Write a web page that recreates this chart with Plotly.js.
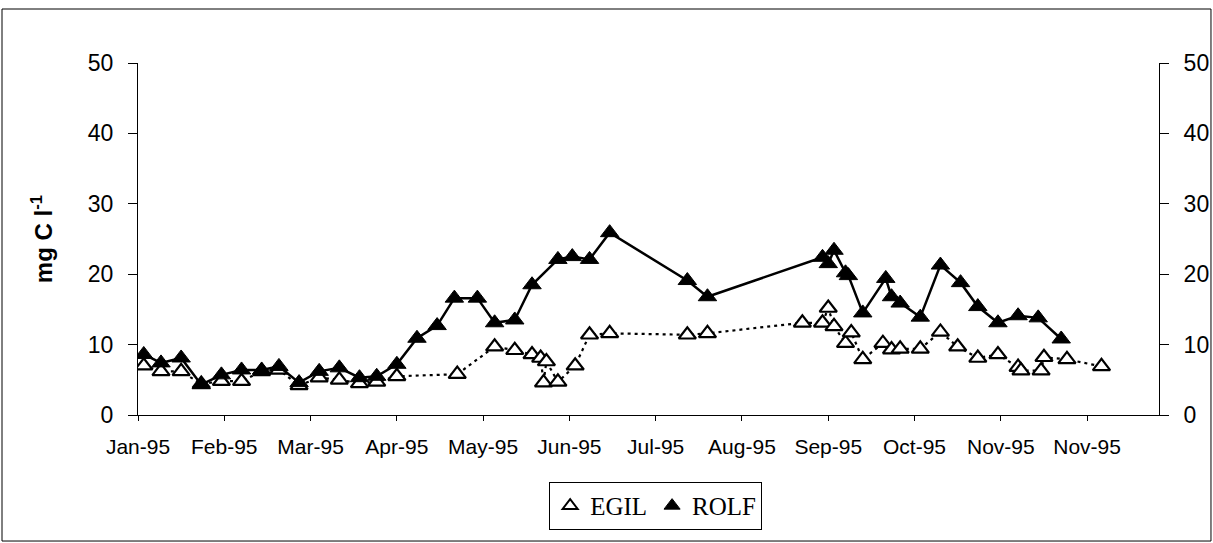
<!DOCTYPE html>
<html>
<head>
<meta charset="utf-8">
<script src="https://cdn.plot.ly/plotly-3.0.1.min.js"></script>
<style>html,body{margin:0;padding:0;background:#fff;}#chart{width:1213px;height:543px;}</style>
</head>
<body>
<div id="chart"></div>
<script>
// x values: days since start of axis (tick every 30 days)
const tickDays = [0, 30, 60, 90, 120, 150, 180, 210, 240, 270, 300, 330];
const tickLabels = ['Jan-95','Feb-95','Mar-95','Apr-95','May-95','Jun-95','Jul-95','Aug-95','Sep-95','Oct-95','Nov-95','Nov-95'];

const egilDays = [2, 8, 15, 22, 29, 36, 43, 49, 56, 63, 70, 77, 83, 90, 111, 124, 131, 137, 140, 141, 142, 146, 152, 157, 164, 191, 198, 231, 238, 240, 242, 246, 248, 252, 259, 262, 265, 272, 279, 285, 292, 299, 306, 307, 314, 315, 323, 335];
const egilValues = [7.0, 6.2, 6.2, 4.4, 4.8, 4.8, 6.2, 6.4, 4.2, 5.3, 5.0, 4.5, 4.7, 5.5, 5.8, 9.7, 9.2, 8.6, 8.1, 4.6, 7.6, 4.7, 7.0, 11.4, 11.6, 11.4, 11.6, 13.1, 13.1, 15.2, 12.6, 10.2, 11.7, 7.9, 10.2, 9.3, 9.4, 9.4, 11.8, 9.7, 8.1, 8.6, 6.8, 6.3, 6.3, 8.2, 7.9, 6.9];

const rolfDays = [2, 8, 15, 22, 29, 36, 43, 49, 56, 63, 70, 77, 83, 90, 97, 104, 110, 118, 124, 131, 137, 146, 151, 157, 164, 191, 198, 238, 240, 242, 246, 247, 252, 260, 262, 265, 272, 279, 286, 292, 299, 306, 313, 321];
const rolfValues = [8.6, 7.4, 8.1, 4.3, 5.7, 6.4, 6.4, 6.9, 4.6, 6.2, 6.7, 5.3, 5.5, 7.2, 10.9, 12.7, 16.6, 16.6, 13.1, 13.5, 18.5, 22.1, 22.5, 22.1, 25.9, 19.1, 16.8, 22.4, 21.5, 23.4, 20.2, 19.8, 14.5, 19.4, 16.8, 15.9, 13.9, 21.3, 18.8, 15.4, 13.1, 14.1, 13.8, 10.8];

const yTicks = [0, 10, 20, 30, 40, 50];
const xRange = [0, 355];
const yRange = [0, 50];

const sans = 'Liberation Sans, Arial, sans-serif';

const traces = [
  {
    x: egilDays, y: egilValues, name: 'EGIL', type: 'scatter', mode: 'lines+markers',
    xaxis: 'x', yaxis: 'y', showlegend: false,
    line: {color: '#000', width: 2.2, dash: '3px,4px'},
    marker: {symbol: 'triangle-up', size: 15, color: '#fff', line: {color: '#000', width: 2.2}}
  },
  {
    x: rolfDays, y: rolfValues, name: 'ROLF', type: 'scatter', mode: 'lines+markers',
    xaxis: 'x', yaxis: 'y2', showlegend: false,
    line: {color: '#000', width: 2.5},
    marker: {symbol: 'triangle-up', size: 16, color: '#000', line: {color: '#000', width: 1}}
  },
  {
    x: [null], y: [null], name: 'EGIL', type: 'scatter', mode: 'markers', xaxis: 'x', yaxis: 'y',
    marker: {symbol: 'triangle-up', size: 13, color: '#fff', line: {color: '#000', width: 2}}
  },
  {
    x: [null], y: [null], name: 'ROLF', type: 'scatter', mode: 'markers', xaxis: 'x', yaxis: 'y',
    marker: {symbol: 'triangle-up', size: 14, color: '#000', line: {color: '#000', width: 1}}
  }
];

const commonY = {
  range: yRange, tickvals: yTicks, showgrid: false, zeroline: false,
  showline: true, linecolor: '#000', linewidth: 1, tickcolor: '#000', tickwidth: 1,
  fixedrange: true
};

const layout = {
  width: 1213, height: 543,
  margin: {l: 138, r: 54, t: 63, b: 128, pad: 0},
  paper_bgcolor: '#fff', plot_bgcolor: '#fff',
  font: {family: sans, size: 20, color: '#000'},
  showlegend: true,
  legend: {
    orientation: 'h', x: 0.507, xanchor: 'center', y: -0.19, yanchor: 'top',
    bordercolor: '#000', borderwidth: 1, bgcolor: '#fff',
    font: {family: 'Liberation Serif, Times New Roman, serif', size: 25, color: '#000'},
    itemwidth: 30, tracegroupgap: 0, itemsizing: 'trace'
  },
  xaxis: {
    range: xRange, tickvals: tickDays, ticktext: tickLabels,
    showgrid: false, zeroline: false, showline: true, linecolor: '#000', linewidth: 1,
    ticks: 'outside', ticklen: 5, tickcolor: '#000', tickwidth: 1,
    tickfont: {family: sans, size: 21, color: '#000'},
    ticklabelstandoff: 8, anchor: 'y', fixedrange: true
  },
  xaxis2: {
    range: xRange, tickvals: tickDays, overlaying: 'x', anchor: 'y', side: 'bottom',
    showgrid: false, zeroline: false, showline: false,
    ticks: 'inside', ticklen: 8, tickcolor: '#000', tickwidth: 1, showticklabels: false, fixedrange: true
  },
  yaxis: Object.assign({}, commonY, {
    side: 'left', anchor: 'x', ticks: 'outside', ticklen: 9,
    tickfont: {family: sans, size: 23, color: '#000'},
    ticklabelstandoff: 10,
    title: {text: 'mg C l<sup>-1</sup>', font: {family: sans, size: 24, color: '#000', weight: 'bold'}, standoff: 28}
  }),
  yaxis2: Object.assign({}, commonY, {
    side: 'right', overlaying: 'y', anchor: 'x', ticks: 'outside', ticklen: 9,
    tickfont: {family: sans, size: 23, color: '#000'},
    ticklabelstandoff: 10
  }),
  yaxis3: Object.assign({}, commonY, {
    side: 'left', overlaying: 'y', anchor: 'x', ticks: 'inside', ticklen: 8, showticklabels: false, showline: false
  }),
  yaxis4: Object.assign({}, commonY, {
    side: 'right', overlaying: 'y', anchor: 'x', ticks: 'inside', ticklen: 8, showticklabels: false, showline: false
  }),
  shapes: [
    {type: 'rect', xref: 'paper', yref: 'paper', x0: -0.1332, x1: 1.0509, y0: -0.358, y1: 1.1534,
     line: {color: '#000', width: 1}, fillcolor: 'rgba(0,0,0,0)', layer: 'below'}
  ]
};

Plotly.newPlot('chart', traces, layout, {staticPlot: true, displayModeBar: false});
</script>
</body>
</html>
